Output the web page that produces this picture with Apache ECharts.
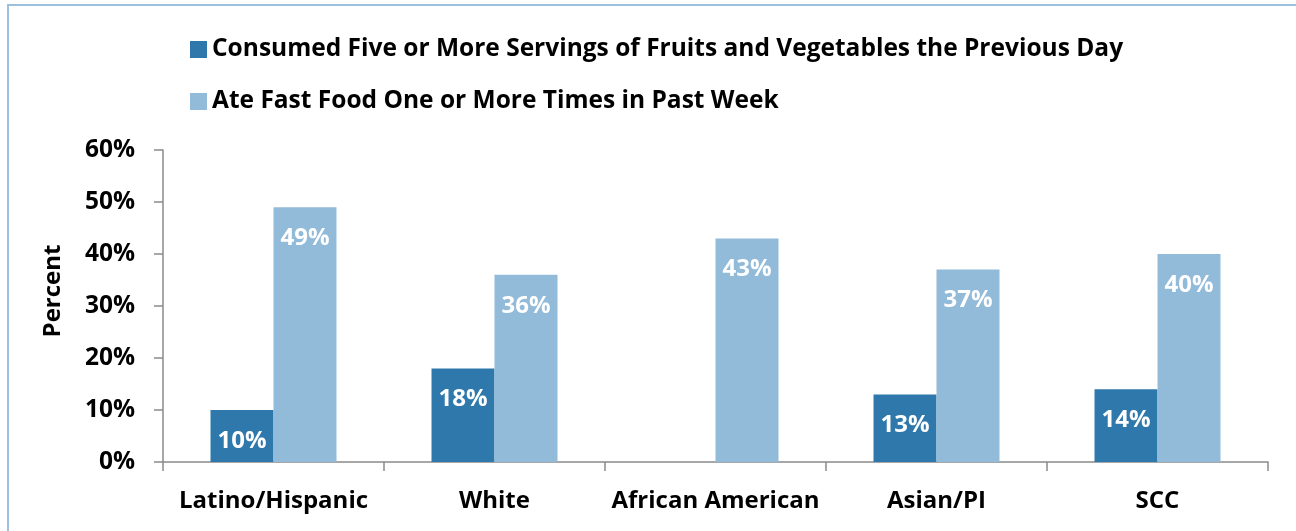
<!DOCTYPE html>
<html>
<head>
<meta charset="utf-8">
<script src="https://cdn.jsdelivr.net/npm/echarts@6/dist/echarts.min.js"></script>
<style>
  html, body { margin: 0; padding: 0; background: #fff; }
  #frame { position: absolute; left: 7px; top: 4px; width: 1300px; height: 540px;
           border: 2px solid #9cc0de; box-sizing: border-box; }
  #chart { position: absolute; left: 0; top: 0; width: 1296px; height: 531px; }
</style>
</head>
<body>
<div id="frame"></div>
<div id="chart"></div>
<script>
// Groups along the x axis
const categories = ['Latino/Hispanic', 'White', 'African American', 'Asian/PI', 'SCC'];
// Series names
const seriesNames = [
  'Consumed Five or More Servings of Fruits and Vegetables the Previous Day',
  'Ate Fast Food One or More Times in Past Week'
];
// Percent values per group (no fruit/vegetable estimate for African American)
const fruitVeg = [10, 18, null, 13, 14];
const fastFood = [49, 36, 43, 37, 40];
// Value axis ticks
const yTicks = [0, 10, 20, 30, 40, 50, 60];

const FONT = '"Open Sans", sans-serif';
const AXIS_GRAY = '#8a8a8a';

const chart = echarts.init(document.getElementById('chart'), null, { renderer: 'canvas' });

const barLabel = {
  show: true,
  position: 'insideTop',
  distance: 19,
  color: '#ffffff',
  fontFamily: FONT,
  fontWeight: 'bold',
  fontSize: 24,
  formatter: p => p.value + '%'
};

chart.setOption({
  animation: false,
  textStyle: { fontFamily: FONT },
  legend: {
    orient: 'vertical',
    left: 185,
    top: 32,
    itemWidth: 17,
    itemHeight: 17,
    itemGap: 27,
    icon: 'rect',
    selectedMode: false,
    textStyle: { fontFamily: FONT, fontWeight: 'bold', fontSize: 24.5, color: '#000' },
    data: seriesNames
  },
  grid: { left: 163, right: 28, top: 150, bottom: 69, containLabel: false },
  xAxis: {
    type: 'category',
    data: categories,
    axisLine: { lineStyle: { color: AXIS_GRAY, width: 1.5 } },
    axisTick: { show: true, length: 9, lineStyle: { color: AXIS_GRAY, width: 1.5 } },
    axisLabel: { interval: 0, color: '#000', fontFamily: FONT, fontWeight: 'bold', fontSize: 24, margin: 27 }
  },
  yAxis: {
    type: 'value',
    min: yTicks[0],
    max: yTicks[yTicks.length - 1],
    interval: yTicks[1] - yTicks[0],
    name: 'Percent',
    nameLocation: 'middle',
    nameGap: 98,
    nameRotate: 90,
    nameTextStyle: { color: '#000', fontFamily: FONT, fontWeight: 'bold', fontSize: 24, padding: [0, 0, 0, 30] },
    splitLine: { show: false },
    axisLine: { show: true, lineStyle: { color: AXIS_GRAY, width: 1.5 } },
    axisTick: { show: true, length: 9, lineStyle: { color: AXIS_GRAY, width: 1.5 } },
    axisLabel: { color: '#000', fontFamily: FONT, fontWeight: 'bold', fontSize: 24.5, margin: 28,
                 formatter: v => v + '%' }
  },
  series: [
    {
      name: seriesNames[0],
      type: 'bar',
      data: fruitVeg,
      barGap: '0%',
      barCategoryGap: '43%',
      itemStyle: { color: '#2e78ac' },
      label: barLabel
    },
    {
      name: seriesNames[1],
      type: 'bar',
      data: fastFood,
      barGap: '0%',
      barCategoryGap: '43%',
      itemStyle: { color: '#92bad9' },
      label: barLabel
    }
  ]
});
</script>
</body>
</html>
